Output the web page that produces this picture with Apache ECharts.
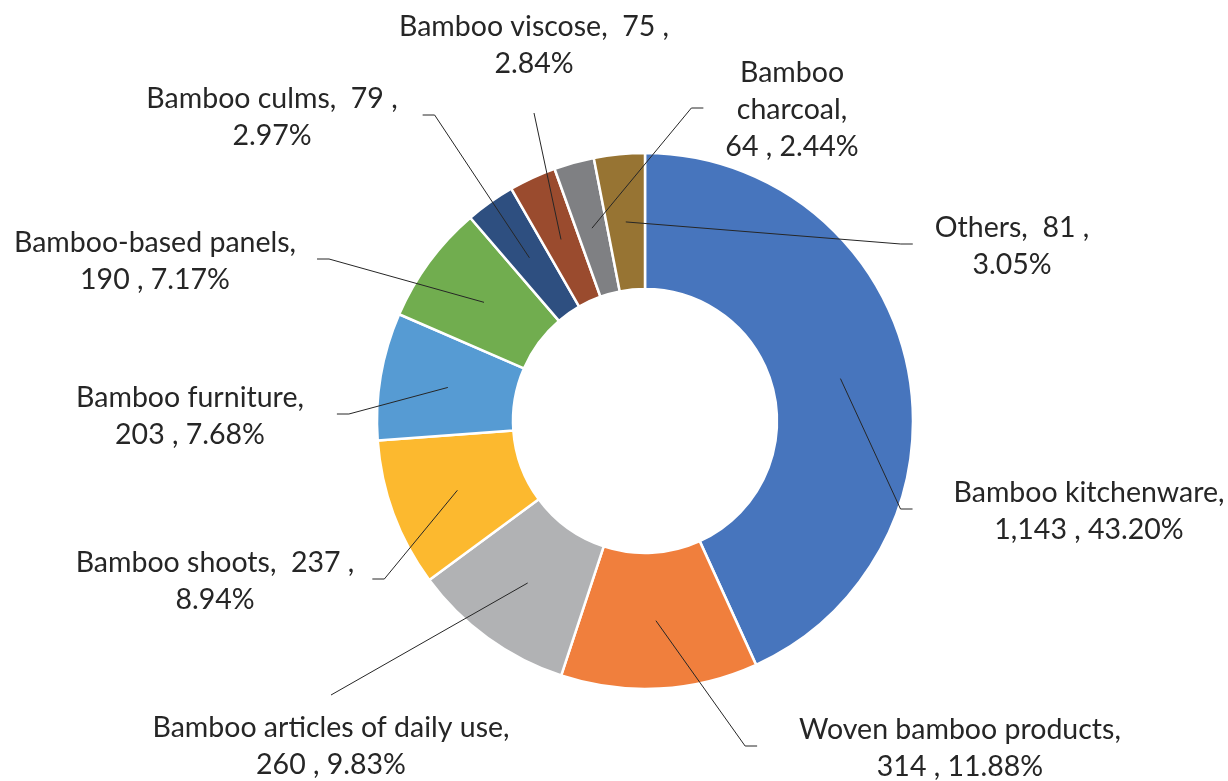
<!DOCTYPE html>
<html>
<head>
<meta charset="utf-8">
<script src="https://cdn.jsdelivr.net/npm/echarts@6/dist/echarts.min.js"></script>
<style>
  html, body { margin: 0; padding: 0; background: #ffffff; }
  #chart { width: 1228px; height: 781px; }
</style>
</head>
<body>
<div id="chart"></div>
<script>
// Bamboo product categories, clockwise from 12 o'clock
const categories = [
  'Bamboo kitchenware',
  'Woven bamboo products',
  'Bamboo articles of daily use',
  'Bamboo shoots',
  'Bamboo furniture',
  'Bamboo-based panels',
  'Bamboo culms',
  'Bamboo viscose',
  'Bamboo charcoal',
  'Others'
];
const values = [1143, 314, 260, 237, 203, 190, 79, 75, 64, 81];
const percents = ['43.20%', '11.88%', '9.83%', '8.94%', '7.68%', '7.17%', '2.97%', '2.84%', '2.44%', '3.05%'];

// How each label wraps: {n} name, {N} name with a break at its space, {v} value, {p} share
const labelTemplates = [
  '{n},\n{v} , {p}',
  '{n},\n{v} , {p}',
  '{n},\n{v} , {p}',
  '{n},  {v} ,\n{p}',
  '{n},\n{v} , {p}',
  '{n},\n{v} , {p}',
  '{n},  {v} ,\n{p}',
  '{n},  {v} ,\n{p}',
  '{N},\n{v} , {p}',
  '{n},  {v} ,\n{p}'
];

const colors = ['#4775BD', '#F07F3D', '#B1B2B4', '#FCB92F', '#569BD3', '#71AD4F', '#2E4F80', '#9A4B2E', '#7F8083', '#977433'];

// Label placement: centre of each text block, which side the leader line meets, and its gap
const labelSpots = [
  { x: 1089, y: 511, side: 'left', gap: 41 },
  { x: 960, y: 748, side: 'left', gap: 42 },
  { x: 331, y: 746, side: 'top', gap: 14 },
  { x: 215, y: 581, side: 'right', gap: 18 },
  { x: 190, y: 416, side: 'right', gap: 33 },
  { x: 155, y: 261, side: 'right', gap: 21 },
  { x: 272, y: 117, side: 'right', gap: 25 },
  { x: 534, y: 45, side: 'bottom', gap: 31 },
  { x: 792, y: 110, side: 'left', gap: 22 },
  { x: 1012, y: 246, side: 'left', gap: 22 }
];

const CENTER = [645, 421];
const R_IN = 132;
const R_OUT = 268;
const R_ANCHOR = 200;   // leader lines start half way across the ring
const ELBOW = 12;

const pieData = categories.map((name, i) => ({
  name: name,
  value: values[i],
  itemStyle: { color: colors[i] }
}));

const chart = echarts.init(document.getElementById('chart'), null, { renderer: 'canvas' });

const option = {
  backgroundColor: '#ffffff',
  animation: false,
  series: [
    // the ring itself
    {
      type: 'pie',
      z: 2,
      center: CENTER,
      radius: [R_IN, R_OUT],
      startAngle: 90,
      clockwise: true,
      data: pieData,
      itemStyle: { borderColor: '#ffffff', borderWidth: 2.5 },
      emphasis: { disabled: true },
      label: { show: false },
      labelLine: { show: false }
    },
    // same slices, see-through, carrying the labels and leader lines on top of the ring
    {
      type: 'pie',
      z: 3,
      center: CENTER,
      radius: [R_IN, R_OUT],
      startAngle: 90,
      clockwise: true,
      avoidLabelOverlap: false,
      silent: true,
      data: categories.map((name, i) => ({ name: name, value: values[i] })),
      itemStyle: { color: 'rgba(0,0,0,0)', borderWidth: 0 },
      emphasis: { disabled: true },
      label: {
        show: true,
        position: 'outside',
        color: '#262626',
        fontFamily: 'Lato',
        fontSize: 28.5,
        lineHeight: 37,
        align: 'center',
        formatter: (p) => {
          const i = p.dataIndex;
          return labelTemplates[i]
            .replace('{n}', categories[i])
            .replace('{N}', categories[i].replace(' ', '\n'))
            .replace('{v}', values[i].toLocaleString('en-US'))
            .replace('{p}', percents[i]);
        }
      },
      labelLine: {
        show: true,
        length: 0,
        length2: 0,
        smooth: false,
        lineStyle: { color: '#262626', width: 1 }
      },
      labelLayout: (params) => {
        const i = params.dataIndex;
        const s = labelSpots[i];
        const p0 = params.labelLinePoints[0];
        const k = R_ANCHOR / R_OUT;
        const anchor = [CENTER[0] + (p0[0] - CENTER[0]) * k, CENTER[1] + (p0[1] - CENTER[1]) * k];
        const w = params.labelRect.width;
        const h = params.labelRect.height;
        let pts;
        if (s.side === 'left') {
          const ex = s.x - w / 2 - s.gap, ey = s.y - 2;
          pts = [anchor, [ex - ELBOW, ey], [ex, ey]];
        } else if (s.side === 'right') {
          const ex = s.x + w / 2 + s.gap, ey = s.y - 2;
          pts = [anchor, [ex + ELBOW, ey], [ex, ey]];
        } else if (s.side === 'top') {
          pts = [anchor, [s.x, s.y - h / 2 - s.gap]];
        } else {
          pts = [anchor, [s.x, s.y + h / 2 + s.gap]];
        }
        return {
          x: s.x,
          y: s.y,
          align: 'center',
          verticalAlign: 'middle',
          labelLinePoints: pts
        };
      }
    }
  ]
};

chart.setOption(option);
</script>
</body>
</html>
